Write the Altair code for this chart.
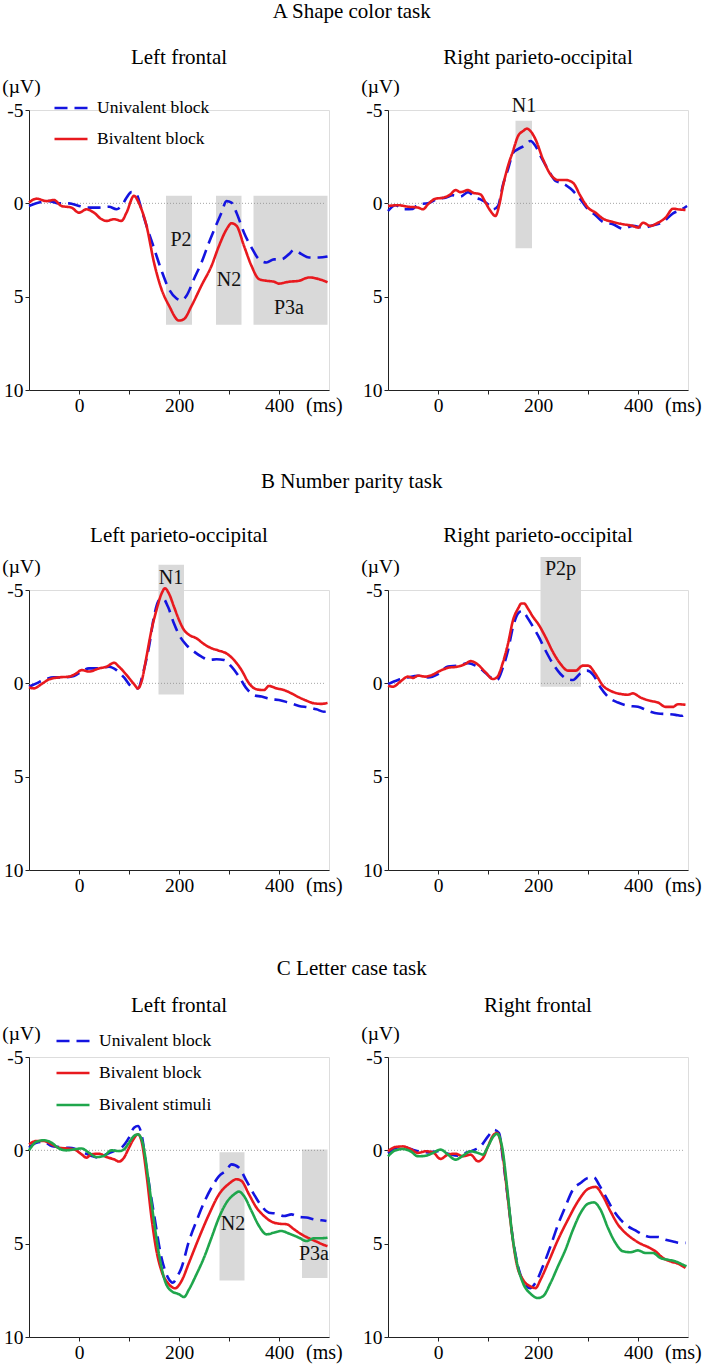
import altair as alt
import pandas as pd

FONT = "Liberation Serif"
BLUE = "#1414e0"
RED = "#e8191e"
GREEN = "#1fa64c"
SHADE = "#d9d9d9"

# ---------------- A Shape color task : Left frontal ----------------
A1_UNI_T = [-100, -80, -60, -40, -20, 0, 20, 40, 60, 75, 85, 95, 105, 115, 125, 135, 150, 165, 180, 195,
            205, 215, 230, 245, 260, 275, 285, 295, 305, 315, 330, 345, 360, 375, 390, 405, 420, 430, 445,
            460, 480, 497]
A1_UNI_V = [0.14, -0.04, -0.12, 0, 0, 0.14, 0.23, 0.23, 0.18, 0.32, 0.14, -0.3, -0.6, -0.48, 0.32, 1.2, 2.4,
            3.6, 4.6, 5.1, 5.2, 4.95, 4.05, 3.17, 2.1, 1.12, 0.5, -0.12, -0.04, 0.5, 1.57, 2.37, 3.0, 3.17,
            3.0, 3.0, 2.72, 2.5, 2.72, 2.9, 2.9, 2.85]
A1_BIV_T = [-100, -85, -65, -50, -35, -15, 0, 15, 30, 45, 55, 70, 85, 95, 110, 120, 135, 150, 165, 180, 200,
            210, 225, 245, 265, 280, 295, 305, 315, 330, 345, 360, 375, 390, 400, 420, 440, 460, 480, 497]
A1_BIV_V = [-0.04, -0.25, -0.12, -0.18, 0.14, 0.23, 0.5, 0.32, 0.5, 0.85, 0.94, 0.85, 0.94, 0.5, -0.4, 0,
            1.2, 3.17, 4.6, 5.48, 6.28, 6.2, 5.5, 4.4, 3.35, 2.28, 1.4, 1.07, 1.2, 2.28, 3.35, 4.06, 4.15,
            4.2, 4.3, 4.2, 4.15, 3.97, 4.06, 4.23]
A1_WIN = ["P2", "N2", "P3a"]
A1_WIN_START = [174, 274, 349]
A1_WIN_END = [226, 325, 497]
A1_WIN_TOP = [-0.4, -0.4, -0.4]
A1_WIN_BOTTOM = [6.5, 6.5, 6.5]
A1_LAB_T = [204, 300, 420]
A1_LAB_V = [1.95, 4.1, 5.6]

# ---------------- A Shape color task : Right parieto-occipital ----------------
A2_UNI_T = [-100, -85, -70, -50, -40, -20, 0, 15, 30, 45, 60, 75, 85, 100, 110, 120, 130, 140, 150, 160,
            175, 185, 195, 205, 220, 235, 250, 265, 285, 300, 315, 330, 350, 370, 390, 410, 430, 450, 470,
            485, 498]
A2_UNI_V = [0.41, 0.1, 0.32, 0.3, 0.05, 0, -0.25, -0.3, -0.43, -0.36, -0.6, -0.3, -0.21, 0.05, 0.32, 0.14,
            -1.0, -1.82, -2.7, -2.9, -3.12, -3.34, -3.07, -2.54, -1.82, -1.2, -1.07, -0.79, -0.21, 0.32,
            0.64, 1.0, 1.12, 1.36, 1.21, 1.3, 1.18, 1.0, 0.54, 0.36, 0.14]
A2_BIV_T = [-100, -80, -60, -40, -30, -20, -5, 10, 25, 35, 45, 60, 70, 85, 95, 105, 115, 122, 130, 140, 150,
            160, 170, 178, 185, 195, 210, 225, 240, 255, 270, 285, 300, 315, 330, 350, 370, 390, 400, 410,
            425, 440, 455, 470, 480, 495]
A2_BIV_V = [0.14, 0.1, 0.18, 0.23, 0.32, 0.05, -0.25, -0.3, -0.48, -0.71, -0.6, -0.71, -0.57, -0.48, -0.04,
            0.41, 0.68, 0.14, -0.93, -2.0, -2.8, -3.6, -3.87, -4.0, -3.87, -3.43, -2.36, -1.55, -1.25,
            -1.25, -1.1, -0.39, 0.23, 0.5, 0.82, 1.0, 1.12, 1.21, 1.3, 1.04, 1.21, 1.04, 0.77, 0.29, 0.32,
            0.36]
A2_WIN = ["N1"]
A2_WIN_START = [155]
A2_WIN_END = [188]
A2_WIN_TOP = [-4.43]
A2_WIN_BOTTOM = [2.4]
A2_LAB_T = [172]
A2_LAB_V = [-5.2]

# ---------------- B Number parity task : Left parieto-occipital ----------------
B1_UNI_T = [-100, -85, -70, -50, -30, -10, 5, 20, 40, 60, 75, 90, 105, 118, 128, 140, 150, 160, 168, 178,
            190, 200, 215, 230, 245, 260, 275, 290, 305, 320, 335, 350, 365, 385, 400, 420, 440, 460, 475,
            490, 497]
B1_UNI_V = [0.18, 0, -0.18, -0.32, -0.32, -0.39, -0.63, -0.8, -0.8, -0.89, -0.71, -0.32, 0.18, 0.27, -0.54,
            -1.96, -3.57, -4.46, -4.55, -4.1, -3.2, -2.6, -2.05, -1.7, -1.43, -1.25, -1.29, -1.25, -0.89,
            -0.36, 0.27, 0.63, 0.71, 0.86, 0.89, 1.04, 1.21, 1.29, 1.39, 1.52, 1.46]
B1_BIV_T = [-100, -90, -75, -60, -40, -20, -5, 5, 20, 40, 55, 70, 80, 95, 110, 118, 125, 135, 145, 155, 165,
            172, 180, 190, 200, 210, 220, 235, 250, 265, 280, 295, 310, 325, 340, 355, 370, 380, 395, 410,
            425, 440, 455, 470, 485, 497]
B1_BIV_V = [0.21, 0.27, 0.04, -0.21, -0.32, -0.36, -0.54, -0.71, -0.63, -0.8, -0.89, -1.1, -0.89, -0.45,
            0.04, 0.27, -0.09, -1.43, -2.86, -3.93, -4.8, -5.09, -4.8, -4.1, -3.4, -2.86, -2.6, -2.41,
            -2.1, -1.88, -1.75, -1.6, -1.25, -0.71, 0, 0.32, 0.36, 0.14, 0.27, 0.36, 0.54, 0.75, 0.93,
            1.07, 1.1, 1.04]
B1_WIN = ["N1"]
B1_WIN_START = [159]
B1_WIN_END = [210]
B1_WIN_TOP = [-6.35]
B1_WIN_BOTTOM = [0.6]
B1_LAB_T = [184]
B1_LAB_V = [-5.65]

# ---------------- B Number parity task : Right parieto-occipital ----------------
B2_UNI_T = [-100, -80, -60, -40, -20, 0, 20, 40, 60, 75, 90, 105, 118, 130, 140, 150, 160, 168, 178, 190,
            200, 215, 230, 245, 258, 270, 285, 298, 310, 325, 340, 360, 380, 400, 420, 440, 460, 475, 488,
            497]
B2_UNI_V = [0.04, -0.18, -0.32, -0.41, -0.32, -0.5, -0.9, -0.95, -1.08, -0.95, -0.68, -0.32, -0.18, -0.86,
            -1.76, -3.02, -3.74, -3.88, -3.56, -3.02, -2.57, -1.76, -1.04, -0.5, -0.23, -0.18, -0.54, -0.68,
            -0.47, 0.22, 0.72, 1.03, 1.2, 1.26, 1.47, 1.62, 1.65, 1.69, 1.74, 1.5]
B2_BIV_T = [-100, -90, -75, -60, -50, -40, -25, -10, 5, 20, 40, 55, 65, 80, 95, 110, 118, 130, 140, 150, 160,
            167, 172, 180, 190, 200, 215, 230, 245, 260, 275, 290, 300, 315, 330, 345, 360, 380, 390, 405,
            425, 440, 455, 470, 480, 495]
B2_BIV_V = [0.13, 0.18, -0.1, -0.36, -0.29, -0.41, -0.36, -0.47, -0.68, -0.83, -0.9, -1.04, -1.19, -1.0,
            -0.59, -0.23, -0.32, -1.13, -2.12, -3.38, -4.0, -4.28, -4.28, -4.0, -3.56, -3.2, -2.48, -1.67,
            -1.04, -0.68, -0.68, -0.95, -0.95, -0.5, 0.13, 0.4, 0.54, 0.61, 0.54, 0.76, 0.94, 1.03, 1.26,
            1.26, 1.12, 1.15]
B2_WIN = ["P2p"]
B2_WIN_START = [205]
B2_WIN_END = [286]
B2_WIN_TOP = [-6.77]
B2_WIN_BOTTOM = [0.18]
B2_LAB_T = [245]
B2_LAB_V = [-6.1]

# ---------------- C Letter case task : Left frontal ----------------
C1_UNI_T = [-100, -85, -70, -55, -40, -25, -10, 10, 25, 40, 55, 70, 85, 100, 110, 118, 125, 135, 150, 165,
            178, 188, 195, 205, 220, 235, 250, 265, 280, 295, 305, 320, 335, 350, 365, 380, 395, 410, 425,
            440, 455, 470, 485, 495]
C1_UNI_V = [-0.14, -0.41, -0.46, -0.23, -0.18, -0.14, -0.1, 0.13, 0.3, 0.39, 0.21, 0.04, -0.14, -0.68,
            -1.21, -1.3, -0.86, 0.93, 3.43, 5.75, 6.82, 7.09, 6.82, 6.29, 4.86, 3.79, 2.8, 2.0, 1.38, 1.07,
            0.75, 0.93, 1.64, 2.36, 2.98, 3.34, 3.39, 3.52, 3.43, 3.57, 3.6, 3.7, 3.75, 3.79]
C1_BIV_T = [-100, -85, -70, -55, -40, -25, -10, 5, 15, 25, 40, 55, 70, 80, 90, 100, 110, 118, 125, 135, 145,
            155, 165, 180, 192, 205, 220, 240, 260, 280, 300, 315, 325, 340, 355, 370, 385, 400, 415, 430,
            445, 460, 475, 490, 497]
C1_BIV_V = [-0.32, -0.5, -0.5, -0.32, -0.14, -0.1, -0.05, 0.21, 0.39, 0.21, 0.18, 0.36, 0.48, 0.6, 0.39,
            -0.14, -0.64, -0.86, -0.5, 1.29, 3.6, 5.39, 6.46, 7.18, 7.39, 7.0, 6.02, 4.68, 3.43, 2.36, 1.79,
            1.55, 1.64, 2.36, 3.07, 3.52, 3.82, 3.93, 3.96, 4.23, 4.5, 4.71, 4.89, 5.07, 5.13]
C1_STI_T = [-100, -85, -70, -55, -40, -25, -10, 5, 20, 35, 50, 65, 80, 90, 100, 110, 118, 128, 140, 150, 160,
            172, 185, 200, 210, 220, 235, 250, 265, 280, 295, 310, 320, 330, 345, 360, 375, 390, 405, 420,
            440, 455, 470, 485, 497]
C1_STI_V = [0, -0.46, -0.54, -0.41, -0.1, 0, -0.05, -0.1, 0.13, 0.36, 0.3, 0, 0.04, -0.05, -0.41, -0.77,
            -0.86, -0.32, 1.82, 3.79, 5.57, 7.0, 7.54, 7.71, 7.86, 7.45, 6.64, 5.75, 4.68, 3.6, 2.8, 2.36,
            2.21, 2.45, 3.25, 4.05, 4.5, 4.41, 4.32, 4.46, 4.68, 4.86, 4.71, 4.71, 4.68]
C1_WIN = ["N2", "P3a"]
C1_WIN_START = [281, 446]
C1_WIN_END = [331, 497]
C1_WIN_TOP = [0.1, -0.04]
C1_WIN_BOTTOM = [6.97, 6.84]
C1_LAB_T = [308, 470]
C1_LAB_V = [3.97, 5.58]

# ---------------- C Letter case task : Right frontal ----------------
C2_UNI_T = [-100, -85, -70, -55, -40, -20, 0, 20, 40, 55, 70, 85, 100, 112, 122, 130, 140, 150, 160, 172,
            185, 195, 210, 225, 240, 255, 270, 285, 300, 312, 322, 335, 350, 365, 380, 395, 410, 425, 440,
            455, 470, 485, 495]
C2_UNI_V = [0.14, -0.13, -0.18, -0.07, 0.05, 0.11, 0.05, 0.18, 0.29, 0.14, 0, -0.21, -0.75, -1.1, -0.93,
            0.5, 2.64, 4.79, 6.2, 7.1, 7.38, 7.1, 6.2, 5.14, 3.98, 3.0, 2.1, 1.75, 1.48, 1.45, 1.84, 2.46,
            3.18, 3.71, 4.07, 4.29, 4.52, 4.64, 4.64, 4.79, 4.88, 4.96, 4.96]
C2_BIV_T = [-100, -85, -70, -55, -40, -25, -10, 5, 20, 35, 50, 65, 80, 90, 100, 110, 118, 127, 137, 147, 157,
            170, 185, 195, 205, 220, 240, 260, 280, 300, 315, 330, 345, 360, 375, 390, 405, 420, 435, 450,
            465, 480, 495]
C2_BIV_V = [0.05, -0.18, -0.21, -0.07, 0.14, 0.05, 0.11, 0.46, 0.23, 0.18, 0.32, 0.23, 0.59, 0.41, -0.21,
            -0.79, -0.93, -0.21, 1.93, 4.25, 6.04, 6.93, 7.29, 7.38, 6.93, 6.04, 4.79, 3.71, 2.73, 2.07,
            1.96, 2.46, 3.27, 3.98, 4.43, 4.75, 5.0, 5.18, 5.41, 5.77, 5.95, 6.07, 6.3]
C2_STI_T = [-100, -85, -70, -55, -40, -25, -10, 5, 20, 35, 50, 65, 80, 90, 100, 110, 118, 128, 138, 148, 158,
            170, 185, 200, 210, 225, 240, 255, 270, 285, 300, 312, 325, 340, 355, 370, 385, 400, 415, 430,
            445, 460, 475, 490, 497]
C2_STI_V = [0.32, 0, -0.07, 0.05, 0.32, 0.29, 0.14, -0.04, 0.23, 0.5, 0.29, 0.05, 0.14, 0.23, -0.21, -0.71,
            -0.89, -0.21, 1.93, 4.43, 6.04, 7.11, 7.68, 7.91, 7.82, 7.11, 6.21, 5.32, 4.25, 3.36, 2.86,
            2.79, 3.18, 4.16, 4.96, 5.41, 5.46, 5.36, 5.5, 5.5, 5.77, 5.86, 5.95, 6.13, 6.21]

NAMES_A = ["Univalent block", "Bivaltent block"]
NAMES_C = ["Univalent block", "Bivalent block", "Bivalent stimuli"]
COLORS = [BLUE, RED, GREEN]
DASHES = [[13, 7], [1, 0], [1, 0]]

X_TICKS = [0, 100, 200, 300, 400]
Y_TICKS = [-5, 0, 5, 10]

W, H = 300, 280


def xs():
    return alt.Scale(domain=[-100, 500], nice=False, zero=False)


def ys():
    return alt.Scale(domain=[-5, 10], reverse=True, nice=False, zero=False)


X_AXIS = alt.Axis(values=X_TICKS, labelExpr="datum.value % 200 == 0 ? '' + datum.value : ''",
                  title=None, grid=False, tickSize=4, labelPadding=2, labelFont=FONT,
                  labelFontSize=19.5, labelColor="black", domainColor="#222", tickColor="#222",
                  labelFlush=False, labelOverlap=False)
Y_AXIS = alt.Axis(values=Y_TICKS, labelExpr="'' + datum.value", title="(\u00b5V)", titleAngle=0,
                  titleX=-8, titleY=-24, titleAlign="center", titleBaseline="middle",
                  titleFont=FONT, titleFontSize=19.5, titleFontWeight="normal", titleColor="black",
                  grid=False, tickSize=4, labelPadding=2, labelFont=FONT, labelFontSize=19.5,
                  labelColor="black", domainColor="#222", tickColor="#222", labelFlush=False,
                  labelOverlap=False)


def panel(title, names, series, win=None, legend_xy=None, title_offset=9):
    rows = []
    for name, (ts, vs) in zip(names, series):
        for t, v in zip(ts, vs):
            rows.append({"t": t, "v": v, "s": name})
    df = pd.DataFrame(rows)

    if legend_xy is not None:
        leg = alt.Legend(title=None, orient="none", legendX=legend_xy[0], legendY=legend_xy[1],
                         symbolType="stroke", symbolSize=1089, symbolStrokeWidth=2.6,
                         labelFont=FONT, labelFontSize=17.5, labelColor="black",
                         rowPadding=legend_xy[2], labelOffset=8, padding=0, symbolOffset=0)
    else:
        leg = None

    layers = []
    if win is not None:
        names_w, t0, t1, v0, v1, lt, lv = win
        wdf = pd.DataFrame({"name": names_w, "t0": t0, "t1": t1, "v0": v0, "v1": v1,
                            "lt": lt, "lv": lv})
        rects = alt.Chart(wdf).mark_rect(color=SHADE).encode(
            x=alt.X("t0:Q", scale=xs(), axis=X_AXIS), x2="t1:Q",
            y=alt.Y("v0:Q", scale=ys(), axis=Y_AXIS), y2="v1:Q")
        layers.append(rects)

    zero = alt.Chart(pd.DataFrame({"a": [-100], "b": [492], "z": [0]})).mark_rule(
        color="#8c8c8c", strokeDash=[1, 2], strokeWidth=0.8).encode(
        x=alt.X("a:Q", scale=xs(), axis=X_AXIS), x2="b:Q",
        y=alt.Y("z:Q", scale=ys(), axis=Y_AXIS))
    layers.append(zero)

    lines = alt.Chart(df).mark_line(strokeWidth=2.6, interpolate="monotone").encode(
        x=alt.X("t:Q", scale=xs(), axis=X_AXIS),
        y=alt.Y("v:Q", scale=ys(), axis=Y_AXIS),
        color=alt.Color("s:N", scale=alt.Scale(domain=names, range=COLORS[:len(names)]),
                        legend=leg),
        strokeDash=alt.StrokeDash("s:N", scale=alt.Scale(domain=names,
                                                        range=DASHES[:len(names)]), legend=leg),
        order=alt.Order("t:Q"))
    layers.append(lines)

    if win is not None:
        labels = alt.Chart(wdf).mark_text(font=FONT, fontSize=20, color="#111").encode(
            x=alt.X("lt:Q", scale=xs(), axis=X_AXIS),
            y=alt.Y("lv:Q", scale=ys(), axis=Y_AXIS), text="name:N")
        layers.append(labels)

    ms = alt.Chart(pd.DataFrame({"t": [454], "v": [10], "u": ["(ms)"]})).mark_text(
        font=FONT, fontSize=20, align="left", baseline="top", dy=6, color="black").encode(
        x=alt.X("t:Q", scale=xs(), axis=X_AXIS), y=alt.Y("v:Q", scale=ys(), axis=Y_AXIS),
        text="u:N")
    layers.append(ms)

    return alt.layer(*layers).properties(
        width=W, height=H,
        title=alt.TitleParams(title, font=FONT, fontSize=21, fontWeight="normal", color="black",
                              anchor="middle", offset=title_offset))


def row(title, left, right, offset):
    return alt.hconcat(left, right, spacing=59, bounds="flush", title=alt.TitleParams(
        title, font=FONT, fontSize=21, fontWeight="normal", color="black", anchor="middle",
        offset=offset)).resolve_scale(color="independent", strokeDash="independent")


pA1 = panel("Left frontal", NAMES_A, [(A1_UNI_T, A1_UNI_V), (A1_BIV_T, A1_BIV_V)],
            (A1_WIN, A1_WIN_START, A1_WIN_END, A1_WIN_TOP, A1_WIN_BOTTOM, A1_LAB_T, A1_LAB_V),
            legend_xy=(24, -20, 4), title_offset=8)
pA2 = panel("Right parieto-occipital", NAMES_A, [(A2_UNI_T, A2_UNI_V), (A2_BIV_T, A2_BIV_V)],
            (A2_WIN, A2_WIN_START, A2_WIN_END, A2_WIN_TOP, A2_WIN_BOTTOM, A2_LAB_T, A2_LAB_V),
            title_offset=8)
pB1 = panel("Left parieto-occipital", NAMES_A, [(B1_UNI_T, B1_UNI_V), (B1_BIV_T, B1_BIV_V)],
            (B1_WIN, B1_WIN_START, B1_WIN_END, B1_WIN_TOP, B1_WIN_BOTTOM, B1_LAB_T, B1_LAB_V),
            title_offset=10)
pB2 = panel("Right parieto-occipital", NAMES_A, [(B2_UNI_T, B2_UNI_V), (B2_BIV_T, B2_BIV_V)],
            (B2_WIN, B2_WIN_START, B2_WIN_END, B2_WIN_TOP, B2_WIN_BOTTOM, B2_LAB_T, B2_LAB_V),
            title_offset=10)
pC1 = panel("Left frontal", NAMES_C,
            [(C1_UNI_T, C1_UNI_V), (C1_BIV_T, C1_BIV_V), (C1_STI_T, C1_STI_V)],
            (C1_WIN, C1_WIN_START, C1_WIN_END, C1_WIN_TOP, C1_WIN_BOTTOM, C1_LAB_T, C1_LAB_V),
            legend_xy=(26, -34, 5), title_offset=7)
pC2 = panel("Right frontal", NAMES_C,
            [(C2_UNI_T, C2_UNI_V), (C2_BIV_T, C2_BIV_V), (C2_STI_T, C2_STI_V)], title_offset=7)

top_rows = alt.vconcat(
    row("A Shape color task", pA1, pA2, 25),
    row("B Number parity task", pB1, pB2, 33),
    spacing=53,
).resolve_scale(color="independent", strokeDash="independent")

chart = alt.vconcat(
    top_rows,
    row("C Letter case task", pC1, pC2, 16),
    spacing=60,
).resolve_scale(color="independent", strokeDash="independent").properties(
    padding={"left": 1, "top": 0, "right": 0, "bottom": 0}
).configure_view(stroke=None).configure(background="white")

chart.save("out.html", embed_options={"renderer": "svg", "actions": False})
